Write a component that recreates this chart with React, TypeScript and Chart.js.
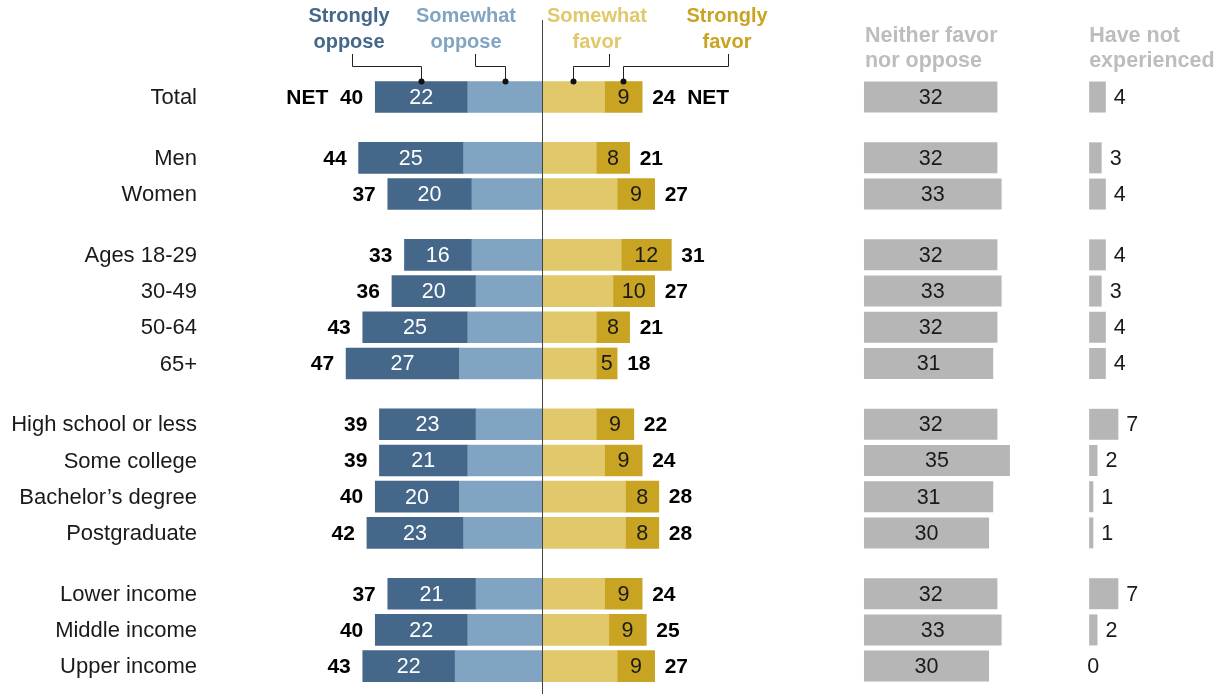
import React, { useEffect, useRef } from "react";
import { Chart, registerables } from "chart.js";

Chart.register(...registerables);

// ---- Data ----
const groups: string[][] = [
  ["Total"],
  ["Men", "Women"],
  ["Ages 18-29", "30-49", "50-64", "65+"],
  ["High school or less", "Some college", "Bachelor\u2019s degree", "Postgraduate"],
  ["Lower income", "Middle income", "Upper income"],
];
const opposeNet = [40, 44, 37, 33, 36, 43, 47, 39, 39, 40, 42, 37, 40, 43];
const strongOppose = [22, 25, 20, 16, 20, 25, 27, 23, 21, 20, 23, 21, 22, 22];
const favorNet = [24, 21, 27, 31, 27, 21, 18, 22, 24, 28, 28, 24, 25, 27];
const strongFavor = [9, 8, 9, 12, 10, 8, 5, 9, 9, 8, 8, 9, 9, 9];
const neither = [32, 32, 33, 32, 33, 32, 31, 32, 35, 31, 30, 32, 33, 30];
const haveNot = [4, 3, 4, 4, 3, 4, 4, 7, 2, 1, 1, 7, 2, 0];

// ---- Layout constants (styles / positions) ----
const GROUP_GAP = 0.68;
const NEITHER_OFFSET = 77.2;
const HAVENOT_OFFSET = 131.2;
const FONT = '"Liberation Sans", Arial, sans-serif';

const C_STRONG_OPP = "#44678a";
const C_SOME_OPP = "#80a4c1";
const C_SOME_FAV = "#e0c86b";
const C_STRONG_FAV = "#c9a322";
const C_GRAY = "#b6b6b6";
const C_GRAY_TEXT = "#bdbdbd";

const categories: string[] = [];
const positions: number[] = [];
groups.forEach((g, gi) => {
  g.forEach((label) => {
    positions.push(categories.length + gi * GROUP_GAP);
    categories.push(label);
  });
});

const labelsPlugin = {
  id: "labelsPlugin",
  afterDatasetsDraw(chart: any) {
    const ctx = chart.ctx as CanvasRenderingContext2D;
    const xs = chart.scales.x;
    const m = (i: number) => chart.getDatasetMeta(i).data as any[];
    const so = m(0), sw = m(1), sf = m(2), sg = m(3), ne = m(4), hn = m(5);
    const left = (el: any) => Math.min(el.x, el.base);
    const right = (el: any) => Math.max(el.x, el.base);
    const mid = (el: any) => (el.x + el.base) / 2;

    ctx.save();
    ctx.textBaseline = "middle";

    categories.forEach((cat, i) => {
      const y = so[i].y;
      // category label
      ctx.font = `22px ${FONT}`;
      ctx.fillStyle = "#1a1a1a";
      ctx.textAlign = "right";
      ctx.fillText(cat, 197, y + 1);

      ctx.font = `21.5px ${FONT}`;
      // strongly oppose value
      ctx.textAlign = "center";
      ctx.fillStyle = "#ffffff";
      ctx.fillText(String(strongOppose[i]), mid(so[i]), y + 1);
      // strongly favor value
      ctx.fillStyle = "#1a1a1a";
      ctx.fillText(String(strongFavor[i]), mid(sg[i]), y + 1);
      // neither value
      ctx.fillText(String(neither[i]), mid(ne[i]), y + 1);
      // have not value
      ctx.textAlign = "left";
      ctx.fillText(String(haveNot[i]), right(hn[i]) + (haveNot[i] === 0 ? -2 : 8), y + 1);

      // nets
      ctx.font = `bold 21px ${FONT}`;
      ctx.fillStyle = "#000000";
      ctx.textAlign = "right";
      ctx.fillText(i === 0 ? `NET  ${opposeNet[i]}` : String(opposeNet[i]), left(so[i]) - 12, y + 1);
      ctx.textAlign = "left";
      ctx.fillText(i === 0 ? `${favorNet[i]}  NET` : String(favorNet[i]), right(sg[i]) + 10, y + 1);
    });

    // center line
    const x0 = Math.round(xs.getPixelForValue(0)) + 0.5;
    ctx.strokeStyle = "#444444";
    ctx.lineWidth = 1;
    ctx.beginPath();
    ctx.moveTo(x0, 20);
    ctx.lineTo(x0, chart.height);
    ctx.stroke();

    // headers
    const headers = [
      { lines: ["Strongly", "oppose"], x: 349, color: C_STRONG_OPP, anchor: 352, el: so[0] },
      { lines: ["Somewhat", "oppose"], x: 466, color: C_SOME_OPP, anchor: 475, el: sw[0] },
      { lines: ["Somewhat", "favor"], x: 597, color: C_SOME_FAV, anchor: 609, el: sf[0] },
      { lines: ["Strongly", "favor"], x: 727, color: C_STRONG_FAV, anchor: 728, el: sg[0] },
    ];
    ctx.font = `bold 20px ${FONT}`;
    ctx.textAlign = "center";
    headers.forEach((h) => {
      ctx.fillStyle = h.color;
      ctx.fillText(h.lines[0], h.x, 16);
      ctx.fillText(h.lines[1], h.x, 42);
      const dx = mid(h.el);
      const dy = h.el.y - h.el.height / 2;
      ctx.strokeStyle = "#222222";
      ctx.lineWidth = 1;
      ctx.beginPath();
      ctx.moveTo(Math.round(h.anchor) + 0.5, 54);
      ctx.lineTo(Math.round(h.anchor) + 0.5, 66.5);
      ctx.lineTo(Math.round(dx) + 0.5, 66.5);
      ctx.lineTo(Math.round(dx) + 0.5, dy);
      ctx.stroke();
      ctx.fillStyle = "#111111";
      ctx.beginPath();
      ctx.arc(Math.round(dx) + 0.5, dy, 3, 0, Math.PI * 2);
      ctx.fill();
    });

    ctx.font = `bold 21.5px ${FONT}`;
    ctx.textAlign = "left";
    ctx.fillStyle = C_GRAY_TEXT;
    ctx.fillText("Neither favor", left(ne[0]) + 1, 36);
    ctx.fillText("nor oppose", left(ne[0]) + 1, 61);
    ctx.fillText("Have not", left(hn[0]), 36);
    ctx.fillText("experienced", left(hn[0]), 61);

    ctx.restore();
  },
};

export default function App() {
  const ref = useRef<HTMLCanvasElement | null>(null);
  useEffect(() => {
    if (!ref.current) return;
    const mk = (f: (i: number) => [number, number]) =>
      categories.map((_, i) => ({ x: f(i), y: positions[i] }));
    const common = { barThickness: 31, grouped: false, borderWidth: 0 };
    const chart = new Chart(ref.current, {
      type: "bar",
      data: {
        datasets: [
          { label: "Strongly oppose", data: mk((i) => [-opposeNet[i], -(opposeNet[i] - strongOppose[i])]), backgroundColor: C_STRONG_OPP, ...common },
          { label: "Somewhat oppose", data: mk((i) => [-(opposeNet[i] - strongOppose[i]), 0]), backgroundColor: C_SOME_OPP, ...common },
          { label: "Somewhat favor", data: mk((i) => [0, favorNet[i] - strongFavor[i]]), backgroundColor: C_SOME_FAV, ...common },
          { label: "Strongly favor", data: mk((i) => [favorNet[i] - strongFavor[i], favorNet[i]]), backgroundColor: C_STRONG_FAV, ...common },
          { label: "Neither favor nor oppose", data: mk((i) => [NEITHER_OFFSET, NEITHER_OFFSET + neither[i]]), backgroundColor: C_GRAY, inflateAmount: 0, ...common },
          { label: "Have not experienced", data: mk((i) => [HAVENOT_OFFSET, HAVENOT_OFFSET + haveNot[i]]), backgroundColor: C_GRAY, inflateAmount: 0, ...common },
        ] as any,
      },
      options: {
        indexAxis: "y",
        animation: false,
        responsive: true,
        maintainAspectRatio: false,
        layout: { padding: 0 },
        plugins: { legend: { display: false }, tooltip: { enabled: false } },
        scales: {
          x: { type: "linear", min: -130, max: 164.5, display: false, grid: { display: false } },
          y: { type: "linear", min: -2.68, max: 16.49, reverse: true, display: false, offset: false, grid: { display: false } },
        },
      } as any,
      plugins: [labelsPlugin],
    });
    return () => chart.destroy();
  }, []);
  return (
    <div style={{ position: "absolute", left: 0, top: 0, width: 1228, height: 694, background: "#fff" }}>
      <canvas ref={ref} />
    </div>
  );
}
